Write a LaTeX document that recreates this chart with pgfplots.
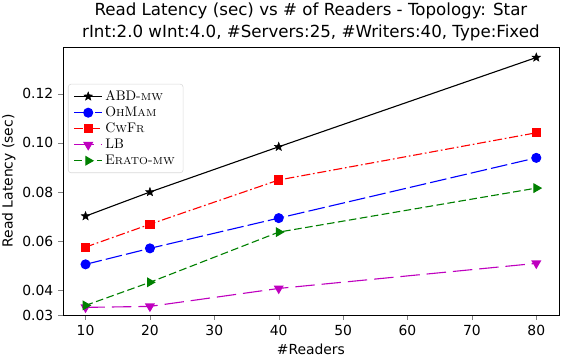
\documentclass[border=0pt]{standalone}
\usepackage{pgfplots}
\pgfplotsset{compat=1.18}
\usepackage{fontspec}
\setmainfont{DejaVu Sans}
\newfontfamily\lmfont{Latin Modern Roman}
\definecolor{mplblue}{rgb}{0,0,1}
\definecolor{mplred}{rgb}{1,0,0}
\definecolor{mplmag}{rgb}{0.75,0,0.75}
\definecolor{mplgreen}{rgb}{0,0.5,0}
% fake small caps for the legend
\newcommand{\smc}[1]{{\fontsize{7.3}{9}\selectfont #1}}
% filled five-pointed star, like matplotlib's '*'
\pgfdeclareplotmark{fstar}{%
  \pgfpathmoveto{\pgfpointpolar{90}{\pgfplotmarksize}}%
  \pgfpathlineto{\pgfpointpolar{126}{0.42\pgfplotmarksize}}%
  \pgfpathlineto{\pgfpointpolar{162}{\pgfplotmarksize}}%
  \pgfpathlineto{\pgfpointpolar{198}{0.42\pgfplotmarksize}}%
  \pgfpathlineto{\pgfpointpolar{234}{\pgfplotmarksize}}%
  \pgfpathlineto{\pgfpointpolar{270}{0.42\pgfplotmarksize}}%
  \pgfpathlineto{\pgfpointpolar{306}{\pgfplotmarksize}}%
  \pgfpathlineto{\pgfpointpolar{342}{0.42\pgfplotmarksize}}%
  \pgfpathlineto{\pgfpointpolar{18}{\pgfplotmarksize}}%
  \pgfpathlineto{\pgfpointpolar{54}{0.42\pgfplotmarksize}}%
  \pgfpathclose\pgfusepathqfillstroke}

\begin{document}
\begin{tikzpicture}
\begin{axis}[
    scale only axis,
    width=357pt, height=193pt,
    xmin=6.5, xmax=83.5,
    ymin=0.03, ymax=0.139,
    xtick={10,20,...,80},
    ytick={0.03,0.04,0.06,0.08,0.10,0.12},
    yticklabels={0.03,0.04,0.06,0.08,0.10,0.12},
    xtick pos=left, ytick pos=left,
    tick align=outside,
    major tick length=3.5pt,
    tick label style={font=\fontsize{10}{12}\selectfont},
    /pgf/number format/assume math mode=true,
    label style={font=\fontsize{10}{12}\selectfont},
    xlabel={\#Readers},
    ylabel={Read Latency (sec)},
    every axis x label/.style={at={(axis description cs:0.5,0)}, anchor=center, yshift=-24.5pt},
    every axis y label/.style={at={(axis description cs:0,0.5)}, anchor=center, xshift=-39pt, rotate=90},
    every axis title/.style={at={(axis description cs:0.5,1)}, anchor=south, yshift=1pt,
        font=\fontsize{12}{15.5}\selectfont, align=center},
    title={Read Latency (sec) vs \# of Readers - Topology: Star\\rInt:2.0 wInt:4.0, \#Servers:25, \#Writers:40, Type:Fixed},
    legend style={at={(axis description cs:0,1)}, xshift=3.6pt, yshift=-26.6pt,
        anchor=north west, draw=black!15,
        rounded corners=2pt, font=\lmfont\fontsize{10}{11}\selectfont,
        row sep=-0.9pt, inner ysep=2.5pt, inner xsep=4pt},
    legend cell align=left,
    legend image code/.code={\draw[mark repeat=2, mark phase=2]
        plot coordinates {(0cm,0cm) (0.35cm,0cm) (0.7cm,0cm)};},
    every axis plot/.append style={line width=0.8pt},
  ]
\addplot[black, mark=fstar, mark size=3.3pt, mark options={solid, line width=0.3pt}] coordinates {
  (10,0.0702) (20,0.0800) (40,0.0984) (80,0.1347)};
\addlegendentry{ABD-\smc{MW}}
\addplot[mplblue, mark=*, mark size=3.2pt, mark options={solid}, dash pattern=on 12pt off 3pt] coordinates {
  (10,0.0506) (20,0.0571) (40,0.0694) (80,0.0939)};
\addlegendentry{O\smc{H}M\smc{AM}}
\addplot[mplred, mark=square*, mark size=2.9pt, mark options={solid}, dash pattern=on 6.5pt off 2pt on 1.2pt off 2pt] coordinates {
  (10,0.0576) (20,0.0669) (40,0.0849) (80,0.1041)};
\addlegendentry{C\smc{W}F\smc{R}}
\addplot[mplmag, mark=triangle*, mark size=3.4pt, mark options={solid, rotate=180}, dash pattern=on 14pt off 5pt] coordinates {
  (10,0.0331) (20,0.0335) (40,0.0408) (80,0.0510)};
\addlegendentry{LB}
\addplot[mplgreen, mark=triangle*, mark size=3.4pt, mark options={solid, rotate=-90}, dash pattern=on 5.5pt off 2.5pt] coordinates {
  (10,0.0339) (20,0.0433) (40,0.0637) (80,0.0816)};
\addlegendentry{E\smc{RATO}-\smc{MW}}
\end{axis}
\pgfresetboundingbox
\path ([shift={(-45.36pt,-30.96pt)}]current axis.south west) rectangle ++(406.8pt,257.76pt);
\end{tikzpicture}
\end{document}
